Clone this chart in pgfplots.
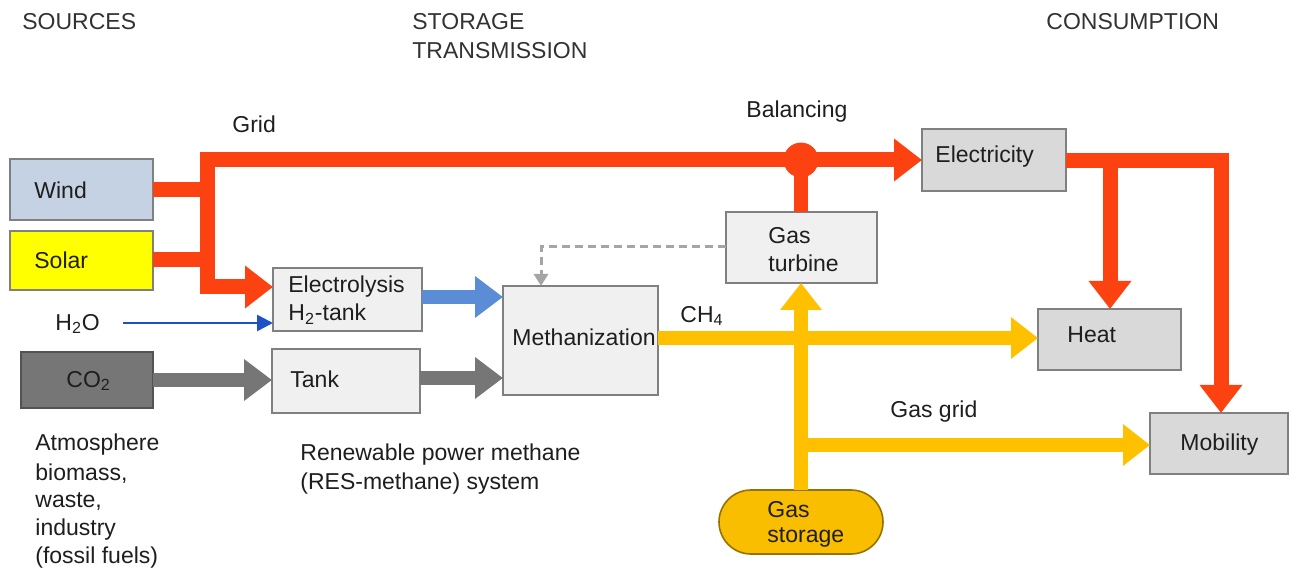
\documentclass[border=0pt]{standalone}
\usepackage{pgfplots}
\pgfplotsset{compat=1.18}
\usetikzlibrary{arrows.meta}
\usepackage{fontspec}
\setmainfont{Liberation Sans}
\definecolor{cred}{RGB}{252,66,16}
\definecolor{cyel}{RGB}{255,192,0}
\definecolor{cblue}{RGB}{91,141,214}
\definecolor{cdblue}{RGB}{30,80,200}
\definecolor{cgarr}{RGB}{118,118,118}
\definecolor{cdash}{RGB}{165,165,165}
\definecolor{cwind}{RGB}{197,210,228}
\definecolor{csolar}{RGB}{255,255,0}
\definecolor{cco}{RGB}{118,118,118}
\definecolor{clight}{RGB}{240,240,240}
\definecolor{cmid}{RGB}{217,217,217}
\definecolor{cstor}{RGB}{250,190,0}
\definecolor{cborder}{RGB}{128,128,128}
\definecolor{ctext}{RGB}{30,30,30}
\definecolor{chead}{RGB}{50,50,50}
\tikzset{
  bigarr/.style={-{Triangle[length=14pt,width=20.5pt]}},
  box/.style={draw=cborder, line width=0.8pt},
  lbl/.style={anchor=west, inner sep=0pt, text=ctext},
}
\begin{document}
\begin{tikzpicture}[font=\fontsize{11.5}{13}\selectfont]
\begin{axis}[x=0.5pt, y=0.5pt, y dir=reverse,
  xmin=0, xmax=1290, ymin=0, ymax=571,
  hide axis, clip=false]
\path (axis cs:0,0) rectangle (axis cs:1290,571);

% ---- boxes ----
\addplot[box, fill=cwind] coordinates {(10,159) (153,159) (153,220) (10,220)} --cycle;
\addplot[box, fill=csolar] coordinates {(10,231) (153,231) (153,290) (10,290)} --cycle;
\addplot[box, fill=cco, draw=cgarr!70!black] coordinates {(21,352) (153,352) (153,408) (21,408)} --cycle;
\addplot[box, fill=clight] coordinates {(273,268) (422,268) (422,331) (273,331)} --cycle;
\addplot[box, fill=clight] coordinates {(272,349) (420,349) (420,413) (272,413)} --cycle;
\addplot[box, fill=clight] coordinates {(503,286) (658,286) (658,395) (503,395)} --cycle;
\addplot[box, fill=clight] coordinates {(726,212) (877,212) (877,283) (726,283)} --cycle;
\addplot[box, fill=cmid] coordinates {(922,129) (1066,129) (1066,191) (922,191)} --cycle;
\addplot[box, fill=cmid] coordinates {(1038,309) (1181,309) (1181,370) (1038,370)} --cycle;
\addplot[box, fill=cmid] coordinates {(1150,413) (1288,413) (1288,474) (1150,474)} --cycle;
\addplot[box, fill=cstor, draw=cstor!60!black, rounded corners=16pt] coordinates {(719,490) (883,490) (883,554) (719,554)} --cycle;

% ---- red electricity network ----
\addplot[cred, line width=7.5pt, line join=miter, line cap=butt, {Triangle[length=14pt,width=20.5pt]}-{Triangle[length=14pt,width=20.5pt]}]
  coordinates {(273,287) (207,287) (207,160) (922,160)};
\addplot[cred, line width=7.5pt] coordinates {(153,190) (207,190)};
\addplot[cred, line width=7.5pt] coordinates {(153,260) (207,260)};
\addplot[cred, line width=7pt] coordinates {(801,212) (801,160)};
\addplot[only marks, mark=*, mark size=8.5pt, color=cred] coordinates {(801,160)};
\addplot[cred, line width=7.5pt, line join=miter, bigarr] coordinates {(1066,161) (1221,161) (1221,413)};
\addplot[cred, line width=7.5pt, bigarr] coordinates {(1110,161) (1110,309)};

% ---- blue / gray inputs ----
\addplot[cblue, line width=7pt, -{Triangle[length=14pt,width=20pt]}] coordinates {(422,297) (503,297)};
\addplot[cdblue, line width=1.3pt, -{Triangle[length=8pt,width=8pt]}] coordinates {(123,323) (273,323)};
\addplot[cgarr, line width=7pt, -{Triangle[length=14pt,width=20pt]}] coordinates {(153,380) (272,380)};
\addplot[cgarr, line width=7pt, -{Triangle[length=14pt,width=20pt]}] coordinates {(420,378) (503,378)};
\addplot[cdash, line width=1.5pt, dash pattern=on 4pt off 2.5pt, -{Triangle[length=6pt,width=7pt]}] coordinates {(726,247) (541,247) (541,286)};

% ---- yellow gas network ----
\addplot[cyel, line width=7pt, -{Triangle[length=13.5pt,width=20pt]}] coordinates {(658,338) (1038,338)};
\addplot[cyel, line width=7pt] coordinates {(801,445) (1020,445)};
\addplot[cyel, line width=7pt, -{Triangle[length=13.5pt,width=20pt]}] coordinates {(801,445) (1150,445)};
\addplot[cyel, line width=7pt, -{Triangle[length=13.5pt,width=20pt]}] coordinates {(801,490) (801,283)};

% ---- texts ----
\node[lbl, text=chead] at (axis cs:22,22) {SOURCES};
\node[lbl, text=chead] at (axis cs:412,22) {STORAGE};
\node[lbl, text=chead] at (axis cs:412,51) {TRANSMISSION};
\node[lbl, text=chead] at (axis cs:1046,22) {CONSUMPTION};
\node[lbl] at (axis cs:232,124) {Grid};
\node[lbl] at (axis cs:746,112) {Balancing};
\node[lbl] at (axis cs:34,190) {Wind};
\node[lbl] at (axis cs:34,260) {Solar};
\node[lbl] at (axis cs:55,324) {H\textsubscript{2}O};
\node[lbl] at (axis cs:66,381) {CO\textsubscript{2}};
\node[lbl] at (axis cs:288,287) {Electrolysis};
\node[lbl] at (axis cs:288,314) {H\textsubscript{2}-tank};
\node[lbl] at (axis cs:290,379) {Tank};
\node[lbl] at (axis cs:512,337) {Methanization};
\node[lbl] at (axis cs:768,236) {Gas};
\node[lbl] at (axis cs:768,263) {turbine};
\node[lbl] at (axis cs:680,316) {CH\textsubscript{4}};
\node[lbl] at (axis cs:935,157) {Electricity};
\node[lbl] at (axis cs:1067,335) {Heat};
\node[lbl] at (axis cs:1180,445) {Mobility};
\node[lbl] at (axis cs:890,412) {Gas grid};
\node[lbl] at (axis cs:767,510) {Gas};
\node[lbl] at (axis cs:767,537) {storage};
\node[lbl] at (axis cs:300,455) {Renewable power methane};
\node[lbl] at (axis cs:300,484) {(RES-methane) system};
\node[lbl] at (axis cs:35,445) {Atmosphere};
\node[lbl] at (axis cs:35,474) {biomass,};
\node[lbl] at (axis cs:35,502) {waste,};
\node[lbl] at (axis cs:35,530) {industry};
\node[lbl] at (axis cs:35,558) {(fossil fuels)};
\end{axis}
\end{tikzpicture}
\end{document}
